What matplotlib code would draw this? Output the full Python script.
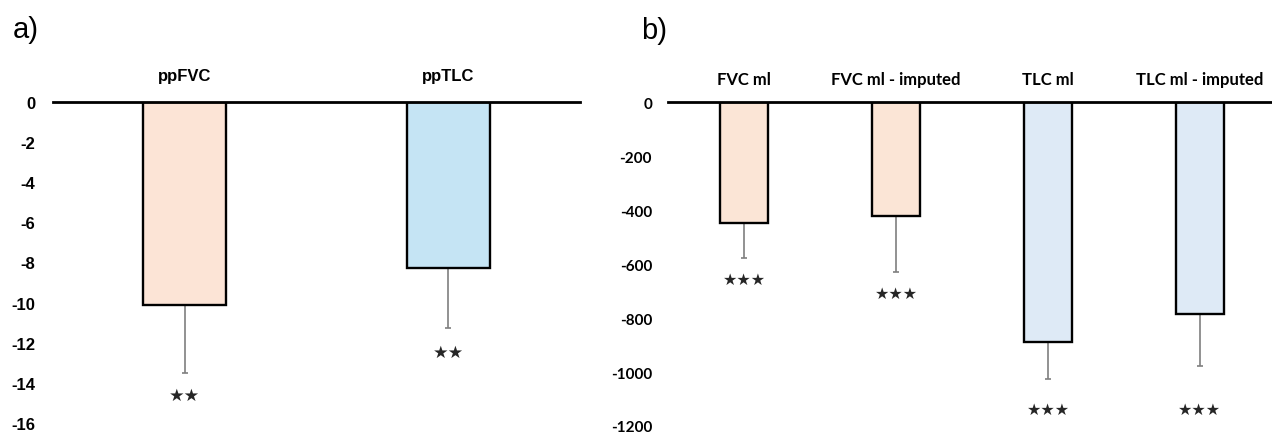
import matplotlib
matplotlib.use("Agg")
import matplotlib.pyplot as plt
import numpy as np

plt.rcParams['axes.unicode_minus'] = False

# ---- data ----
left_cats = ["ppFVC", "ppTLC"]
left_vals = [-10.1, -8.25]
left_err = [3.4, 3.0]
left_sig = ["★★", "★★"]
left_sig_y = [-14.6, -12.45]
left_colors = ["#FCE4D6", "#C5E4F4"]
left_yticks = [0, -2, -4, -6, -8, -10, -12, -14, -16]

right_cats = ["FVC ml", "FVC ml - imputed", "TLC ml", "TLC ml - imputed"]
right_vals = [-448, -422, -890, -785]
right_err = [130, 208, 137, 193]
right_sig = ["★★★"] * 4
right_sig_y = [-656, -710, -1137, -1137]
right_colors = ["#FBE5D6", "#FBE5D6", "#DEEAF6", "#DEEAF6"]
right_yticks = [0, -200, -400, -600, -800, -1000, -1200]

W, H = 1272, 435
fig = plt.figure(figsize=(W / 100, H / 100), dpi=100)

def px_axes(x0, x1, ytop, ybot):
    return fig.add_axes([x0 / W, 1 - ybot / H, (x1 - x0) / W, (ybot - ytop) / H])

axL = px_axes(52.7, 580.1, 102.7, 424.3)
axR = px_axes(668.3, 1272, 103.3, 427.0)

def style(ax, cats, vals, errs, colors, yticks, ylo, xlim, tickfont, catfont,
          catsize, ticksize, cat_pad, tick_pad):
    x = np.arange(len(cats))
    ax.bar(x, vals, width=0.316, color=colors, edgecolor="black",
           linewidth=1.7, zorder=2)
    ax.errorbar(x, vals, yerr=[errs, [0] * len(errs)], fmt="none",
                ecolor="#7F7F7F", elinewidth=1.2, capsize=2.4, capthick=1.2,
                zorder=1)
    ax.set_xlim(*xlim)
    ax.set_ylim(ylo, 0)
    ax.set_yticks(yticks)
    ax.set_yticklabels([str(t) for t in yticks], fontfamily=tickfont,
                       fontweight="bold", fontsize=ticksize)
    ax.tick_params(axis="y", length=0, pad=tick_pad)
    ax.xaxis.tick_top()
    ax.set_xticks(x)
    ax.set_xticklabels(cats, fontfamily=catfont, fontweight="bold",
                       fontsize=catsize)
    ax.tick_params(axis="x", length=0, pad=cat_pad)
    for s in ["left", "right", "bottom"]:
        ax.spines[s].set_visible(False)
    ax.spines["top"].set_linewidth(2.0)
    ax.spines["top"].set_zorder(3)
    ax.patch.set_visible(False)
    return x

xL = style(axL, left_cats, left_vals, left_err, left_colors, left_yticks, -16,
           (-0.5, 1.5), "Liberation Sans", "Liberation Sans", 12, 12, 13.5, 12.7)
for xi, s, yy in zip(xL, left_sig, left_sig_y):
    axL.text(xi, yy, s, ha="center", va="center", fontsize=12.5,
             family="DejaVu Sans", color="#262626")

xR = style(axR, right_cats, right_vals, right_err, right_colors, right_yticks, -1200,
           (-0.5, 3.474), "Lato", "Lato", 12, 11, 11.2, 11.7)
for xi, s, yy in zip(xR, right_sig, right_sig_y):
    axR.text(xi, yy, s, ha="center", va="center", fontsize=11.5,
             family="DejaVu Sans", color="#262626")

fig.text(12.5 / W, 1 - 38 / H, "a)", fontsize=21, family="Liberation Sans",
         va="baseline", ha="left")
fig.text(641 / W, 1 - 39 / H, "b)", fontsize=21, family="Liberation Sans",
         va="baseline", ha="left")

fig.savefig("out.png", dpi=100)
